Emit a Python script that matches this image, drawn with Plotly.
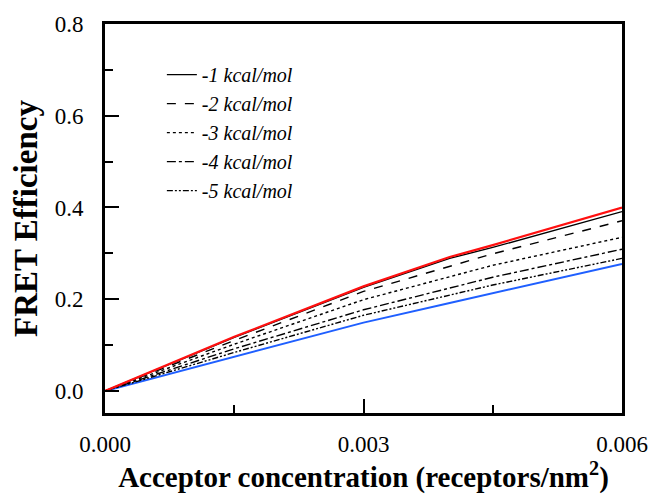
import plotly.graph_objects as go

conc = [0.0, 0.0015, 0.003, 0.004, 0.0045, 0.006]
upper_red = [0.0, 0.118, 0.228, 0.292, 0.318, 0.400]
e_m1 = [0.0, 0.117, 0.226, 0.289, 0.313, 0.391]
e_m2 = [0.0, 0.110, 0.217, 0.271, 0.299, 0.371]
e_m3 = [0.0, 0.102, 0.199, 0.248, 0.274, 0.335]
e_m4 = [0.0, 0.092, 0.177, 0.224, 0.248, 0.309]
e_m5 = [0.0, 0.084, 0.165, 0.209, 0.231, 0.289]
lower_blue = [0.0, 0.074, 0.149, 0.192, 0.213, 0.277]

labels = ["-1 kcal/mol", "-2 kcal/mol", "-3 kcal/mol", "-4 kcal/mol", "-5 kcal/mol"]
series = [e_m1, e_m2, e_m3, e_m4, e_m5]
dashes = ["solid", "dash", "dot", "dashdot", "6px,2px,2px,2px,2px,2px"]

fig = go.Figure()
fig.add_trace(go.Scatter(x=conc, y=lower_blue, mode="lines", line=dict(color="#1f5fff", width=2), showlegend=False))
for lab, ys, d in zip(labels, series, dashes):
    fig.add_trace(go.Scatter(x=conc, y=ys, mode="lines", name=lab, legendgroup=lab,
                             line=dict(color="black", width=1.4, dash=d)))
fig.add_trace(go.Scatter(x=conc, y=upper_red, mode="lines", line=dict(color="#ff1010", width=2.2), showlegend=False))

font = "Liberation Serif, Times New Roman, serif"
axis_common = dict(showline=True, linewidth=3, linecolor="black", mirror=True, automargin=False,
                   ticks="inside", tickwidth=2, tickcolor="black", showgrid=False, zeroline=False,
                   tickfont=dict(family=font, size=23, color="black"))

fig.update_layout(
    width=653, height=496,
    margin=dict(l=105, r=31, t=24, b=83),
    plot_bgcolor="white", paper_bgcolor="white",
    legend=dict(x=0.11, y=0.92, xanchor="left", yanchor="top", bgcolor="rgba(0,0,0,0)",
                font=dict(family=font, size=20, color="black", style="italic"), tracegroupgap=0),
    xaxis=dict(range=[0, 0.006], tickvals=[0, 0.003, 0.006], ticktext=["0.000", "0.003", "0.006"],
               ticklen=14, minor=dict(ticks="inside", tickvals=[0.0015, 0.0045], ticklen=8, tickwidth=2, tickcolor="black"),
               title=dict(text="<b>Acceptor concentration (receptors/nm<sup>2</sup>)</b>",
                          font=dict(family=font, size=29, color="black"), standoff=8),
               ticklabelstandoff=8, **axis_common),
    yaxis=dict(range=[-0.048, 0.8], tickvals=[0, 0.2, 0.4, 0.6, 0.8], ticktext=["0.0", "0.2", "0.4", "0.6", "0.8"],
               ticklen=14, minor=dict(ticks="inside", tickvals=[0.1, 0.3, 0.5, 0.7], ticklen=8, tickwidth=2, tickcolor="black"),
               title=dict(text="<b>FRET Efficiency</b>", font=dict(family=font, size=33, color="black"), standoff=8),
               ticklabelstandoff=14, **axis_common),
)
fig.write_html("out.html", config={"displayModeBar": False},
               post_script="document.body.style.margin='0';document.body.style.overflow='hidden';")
